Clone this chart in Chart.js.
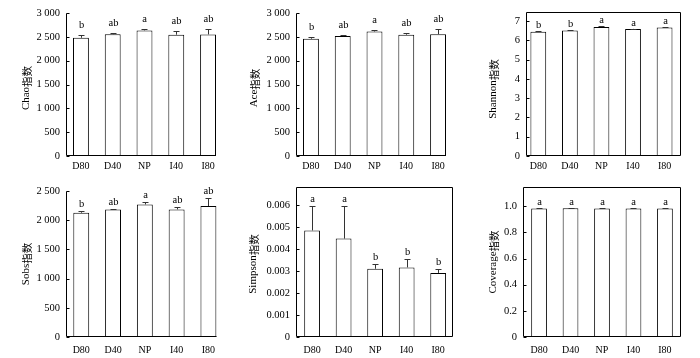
<!DOCTYPE html>
<html>
<head>
<meta charset="utf-8">
<script src="https://cdn.jsdelivr.net/npm/chart.js@4.4.1/dist/chart.umd.min.js"></script>
<style>
  body { margin: 0; background: #fff; }
  #wrap { position: relative; width: 700px; height: 358px; background: #fff; }
  canvas { position: absolute; }
</style>
</head>
<body>
<div id="wrap">
  <canvas id="c1" width="230" height="175" style="left:0;top:0"></canvas>
  <canvas id="c2" width="230" height="175" style="left:230px;top:0"></canvas>
  <canvas id="c3" width="240" height="175" style="left:460px;top:0"></canvas>
  <canvas id="c4" width="230" height="183" style="left:0;top:175px"></canvas>
  <canvas id="c5" width="230" height="183" style="left:230px;top:175px"></canvas>
  <canvas id="c6" width="240" height="183" style="left:460px;top:175px"></canvas>
</div>
<script>
// 处理组
const groups = ['D80', 'D40', 'NP', 'I40', 'I80'];

// Chao
const chaoValues = [2480, 2555, 2635, 2545, 2550];
const chaoErrors = [50, 15, 28, 70, 105];
const chaoLetters = ['b', 'ab', 'a', 'ab', 'ab'];
const chaoTicks = [0, 500, 1000, 1500, 2000, 2500, 3000];

// Ace
const aceValues = [2460, 2515, 2612, 2545, 2555];
const aceErrors = [40, 14, 28, 42, 105];
const aceLetters = ['b', 'ab', 'a', 'ab', 'ab'];
const aceTicks = [0, 500, 1000, 1500, 2000, 2500, 3000];

// Shannon
const shannonValues = [6.44, 6.50, 6.69, 6.59, 6.66];
const shannonErrors = [0.04, 0.04, 0.03, 0.02, 0.04];
const shannonLetters = ['b', 'b', 'a', 'a', 'a'];
const shannonTicks = [0, 1, 2, 3, 4, 5, 6, 7];

// Sobs
const sobsValues = [2128, 2185, 2270, 2185, 2243];
const sobsErrors = [35, 12, 45, 45, 130];
const sobsLetters = ['b', 'ab', 'a', 'ab', 'ab'];
const sobsTicks = [0, 500, 1000, 1500, 2000, 2500];

// Simpson
const simpsonValues = [0.00484, 0.00447, 0.00310, 0.00316, 0.00291];
const simpsonErrors = [0.00110, 0.00147, 0.00023, 0.00037, 0.00018];
const simpsonLetters = ['a', 'a', 'b', 'b', 'b'];
const simpsonTicks = [0, 0.001, 0.002, 0.003, 0.004, 0.005, 0.006];

// Coverage
const coverageValues = [0.983, 0.984, 0.982, 0.982, 0.983];
const coverageErrors = [0.001, 0.001, 0.003, 0.003, 0.002];
const coverageLetters = ['a', 'a', 'a', 'a', 'a'];
const coverageTicks = [0, 0.2, 0.4, 0.6, 0.8, 1.0];

const serif = "'Liberation Serif', 'Times New Roman', serif";
const cjk = "'Noto Sans CJK SC', sans-serif";

const fmtThousands = v => String(v).replace(/\B(?=(\d{3})+(?!\d))/g, ' ');

// 误差线、字母、坐标轴、纵轴标题
const decorPlugin = {
  id: 'decor',
  afterDatasetsDraw(chart, args, opts) {
    const ctx = chart.ctx;
    const xs = chart.scales.x, ys = chart.scales.y;
    const a = chart.chartArea;
    ctx.save();
    // 误差线
    ctx.strokeStyle = '#333';
    ctx.lineWidth = 1;
    opts.values.forEach((v, i) => {
      const x = Math.round(xs.getPixelForValue(i)) + 0.5;
      const y0 = ys.getPixelForValue(v);
      const y1 = Math.round(ys.getPixelForValue(v + opts.errors[i])) + 0.5;
      ctx.beginPath();
      ctx.moveTo(x, y0);
      ctx.lineTo(x, y1);
      ctx.moveTo(x - 3, y1);
      ctx.lineTo(x + 3, y1);
      ctx.stroke();
      // 显著性字母
      ctx.fillStyle = '#000';
      ctx.font = '10.5px ' + serif;
      ctx.textAlign = 'center';
      ctx.textBaseline = 'alphabetic';
      ctx.fillText(opts.letters[i], x, y1 - opts.letterGap);
    });
    // 坐标轴
    ctx.strokeStyle = '#000';
    const L = Math.round(a.left) + 0.5, R = Math.round(a.right) - 0.5;
    const T = Math.round(a.top) + 0.5, B = Math.round(a.bottom) - 0.5;
    ctx.beginPath();
    if (opts.boxed) {
      ctx.rect(L, T, R - L, B - T);
    } else {
      ctx.moveTo(L, T);
      ctx.lineTo(L, B);
      ctx.lineTo(R, B);
    }
    ctx.stroke();
    // 刻度线（朝内）
    ctx.beginPath();
    ys.ticks.forEach(t => {
      const y = Math.round(ys.getPixelForValue(t.value)) + 0.5;
      ctx.moveTo(L, y);
      ctx.lineTo(L + 3, y);
    });
    ctx.stroke();
    // 纵轴标题：西文 + 中文分开画，中心对齐
    const latin = opts.title.replace('指数', '');
    const han = '指数';
    ctx.translate(opts.titleX, opts.titleY);
    ctx.rotate(-Math.PI / 2);
    ctx.fillStyle = '#000';
    ctx.textAlign = 'left';
    ctx.textBaseline = 'alphabetic';
    ctx.font = '11px ' + serif;
    const w1 = ctx.measureText(latin).width;
    ctx.font = '10.5px ' + cjk;
    const w2 = ctx.measureText(han).width;
    const x0 = -(w1 + w2) / 2;
    ctx.font = '11px ' + serif;
    ctx.fillText(latin, x0, 4);
    ctx.font = '10.5px ' + cjk;
    ctx.fillText(han, x0 + w1, 5.5);
    ctx.restore();
  }
};

function makePanel(id, p) {
  const canvas = document.getElementById(id);
  const W = canvas.width, H = canvas.height;
  return new Chart(canvas, {
    type: 'bar',
    data: {
      datasets: [{
        data: p.values.map((v, i) => ({ x: i, y: v })),
        backgroundColor: '#fff',
        borderColor: '#000',
        borderWidth: 1,
        barPercentage: 0.5,
        categoryPercentage: 1
      }]
    },
    options: {
      responsive: false,
      animation: false,
      devicePixelRatio: 1,
      layout: { padding: { left: 0, top: p.area.top, right: W - p.area.right, bottom: 0 } },
      plugins: {
        legend: { display: false },
        tooltip: { enabled: false },
        decor: {
          values: p.values, errors: p.errors, letters: p.letters,
          boxed: p.boxed, letterGap: p.letterGap,
          title: p.title, titleX: p.titleX, titleY: p.titleY
        }
      },
      scales: {
        x: {
          type: 'linear',
          offset: false,
          min: p.xMin,
          max: p.xMax,
          grid: { display: false, drawTicks: false },
          border: { display: false },
          afterBuildTicks: s => { s.ticks = groups.map((g, i) => ({ value: i })); },
          afterFit: s => { s.height = H - p.area.bottom; },
          ticks: {
            autoSkip: false,
            maxRotation: 0,
            padding: p.labelPad,
            color: '#000',
            font: { family: serif, size: 10 },
            callback: v => groups[v]
          }
        },
        y: {
          min: 0,
          max: p.yMax,
          grid: { display: false, drawTicks: false },
          border: { display: false },
          afterBuildTicks: s => { s.ticks = p.ticks.map(v => ({ value: v })); },
          afterFit: s => { s.width = p.area.left; },
          ticks: {
            padding: 6,
            color: '#000',
            font: { family: serif, size: 10.5 },
            callback: p.fmt
          }
        }
      }
    },
    plugins: [decorPlugin]
  });
}

makePanel('c1', {
  values: chaoValues, errors: chaoErrors, letters: chaoLetters, ticks: chaoTicks,
  yMax: 3000, fmt: fmtThousands, title: 'Chao指数',
  area: { left: 66, right: 216, top: 13, bottom: 156 }, xMin: -0.47, xMax: 4.25,
  boxed: false, letterGap: 8, titleX: 25, titleY: 88, labelPad: 4
});
makePanel('c2', {
  values: aceValues, errors: aceErrors, letters: aceLetters, ticks: aceTicks,
  yMax: 3000, fmt: fmtThousands, title: 'Ace指数',
  area: { left: 66, right: 216, top: 13, bottom: 156 }, xMin: -0.47, xMax: 4.25,
  boxed: false, letterGap: 8, titleX: 23, titleY: 88, labelPad: 4
});
makePanel('c3', {
  values: shannonValues, errors: shannonErrors, letters: shannonLetters, ticks: shannonTicks,
  yMax: 7.45, fmt: v => String(v), title: 'Shannon指数',
  area: { left: 66, right: 221, top: 12, bottom: 156 }, xMin: -0.39, xMax: 4.52,
  boxed: true, letterGap: 4, titleX: 32, titleY: 89, labelPad: 4
});
makePanel('c4', {
  values: sobsValues, errors: sobsErrors, letters: sobsLetters, ticks: sobsTicks,
  yMax: 2500, fmt: fmtThousands, title: 'Sobs指数',
  area: { left: 66, right: 217, top: 16, bottom: 162 }, xMin: -0.48, xMax: 4.27,
  boxed: false, letterGap: 5, titleX: 25, titleY: 89, labelPad: 7
});
makePanel('c5', {
  values: simpsonValues, errors: simpsonErrors, letters: simpsonLetters, ticks: simpsonTicks,
  yMax: 0.0068, fmt: v => (v === 0 ? '0' : v.toFixed(3)), title: 'Simpson指数',
  area: { left: 66, right: 223, top: 10, bottom: 162 }, xMin: -0.51, xMax: 4.47,
  boxed: true, letterGap: 5, titleX: 22, titleY: 89, labelPad: 7
});
makePanel('c6', {
  values: coverageValues, errors: coverageErrors, letters: coverageLetters, ticks: coverageTicks,
  yMax: 1.145, fmt: v => (v === 0 ? '0' : v.toFixed(1)), title: 'Coverage指数',
  area: { left: 63, right: 221, top: 10, bottom: 162 }, xMin: -0.51, xMax: 4.51,
  boxed: true, letterGap: 4, titleX: 32, titleY: 87, labelPad: 7
});
</script>
</body>
</html>
